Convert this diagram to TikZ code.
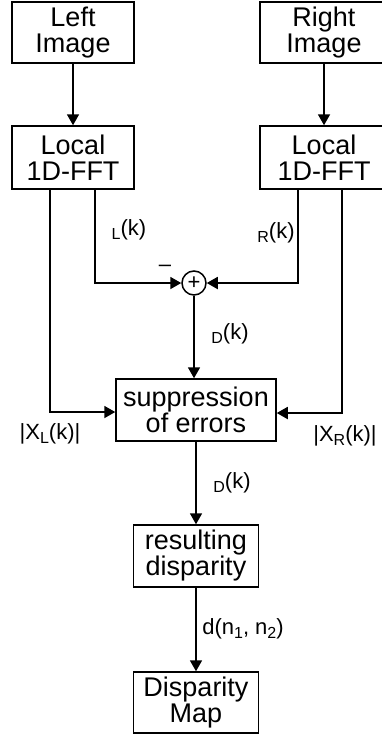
\documentclass[tikz,border=0pt]{standalone}
\usepackage{fontspec}
\setmainfont{Liberation Sans}
\usetikzlibrary{arrows.meta}

\newcommand{\lowsub}[1]{\raisebox{-0.35ex}{\fontsize{16}{16}\selectfont #1}}

\tikzset{
  blockbox/.style={draw, line width=1.5pt, inner sep=0pt, align=center,
    font=\fontsize{27}{26}\selectfont},
  sumnode/.style={draw, circle, line width=1.5pt, minimum size=24pt, inner sep=0pt,
    font=\fontsize{22}{22}\selectfont},
  sigarrow/.style={line width=1.8pt, -{Triangle[length=11pt,width=12pt]}},
  siglabel/.style={inner sep=0pt, font=\fontsize{22}{22}\selectfont}
}

\begin{document}
\begin{tikzpicture}[x=1pt, y=-1pt]

    \useasboundingbox (0,0) rectangle (381,734);

            % Input images
            \node[blockbox, minimum width=122pt, minimum height=61pt] (limg) at (73, 32.5) {Left\\Image};
            \node[blockbox, minimum width=128pt, minimum height=61pt] (rimg) at (324, 32.5) {Right\\Image};

            % Local transforms
            \node[blockbox, minimum width=122pt, minimum height=63pt] (lfft) at (73, 157.5) {Local\\1D-FFT};
            \node[blockbox, minimum width=128pt, minimum height=63pt] (rfft) at (324, 157.5) {Local\\1D-FFT};

            % Summing point
            \node[sumnode] (sum) at (194, 283) {+};

            % Processing chain
            \node[blockbox, minimum width=160pt, minimum height=62pt] (supp) at (196, 410) {suppression\\of errors};
            \node[blockbox, minimum width=125pt, minimum height=62pt] (result) at (196, 556) {resulting\\disparity};
            \node[blockbox, minimum width=125pt, minimum height=61pt] (dmap) at (196, 702.5) {Disparity\\Map};

            % Signal labels
            \node[siglabel] (lphase) at (129, 230) {\lowsub{L}(k)};
            \node[siglabel] (rphase) at (276, 233) {\lowsub{R}(k)};
            \node[siglabel] (minus) at (165, 268) {--};
            \node[siglabel] (dphase) at (230, 334) {\lowsub{D}(k)};
            \node[siglabel] (lmag) at (50, 434) {|X\lowsub{L}(k)|};
            \node[siglabel] (rmag) at (345, 436) {|X\lowsub{R}(k)|};
            \node[siglabel] (dphasec) at (232, 483) {\lowsub{D}(k)};
            \node[siglabel] (disp) at (243, 629) {d(n\lowsub{1}, n\lowsub{2})};

            % Connectors
            \draw[sigarrow] (limg) -- (lfft);
            \draw[sigarrow] (rimg) -- (rfft);
            \draw[sigarrow] ([xshift=22pt]lfft.south) |- (sum.west);
            \draw[sigarrow] ([xshift=-26pt]rfft.south) |- (sum.east);
            \draw[sigarrow] ([xshift=-23pt]lfft.south) |- ([yshift=-2pt]supp.west);
            \draw[sigarrow] ([xshift=18pt]rfft.south) |- ([yshift=-3pt]supp.east);
            \draw[sigarrow] (sum.south) -- (sum.south |- supp.north);
            \draw[sigarrow] (supp) -- (result);
            \draw[sigarrow] (result) -- (dmap);
        \end{tikzpicture}
\end{document}
